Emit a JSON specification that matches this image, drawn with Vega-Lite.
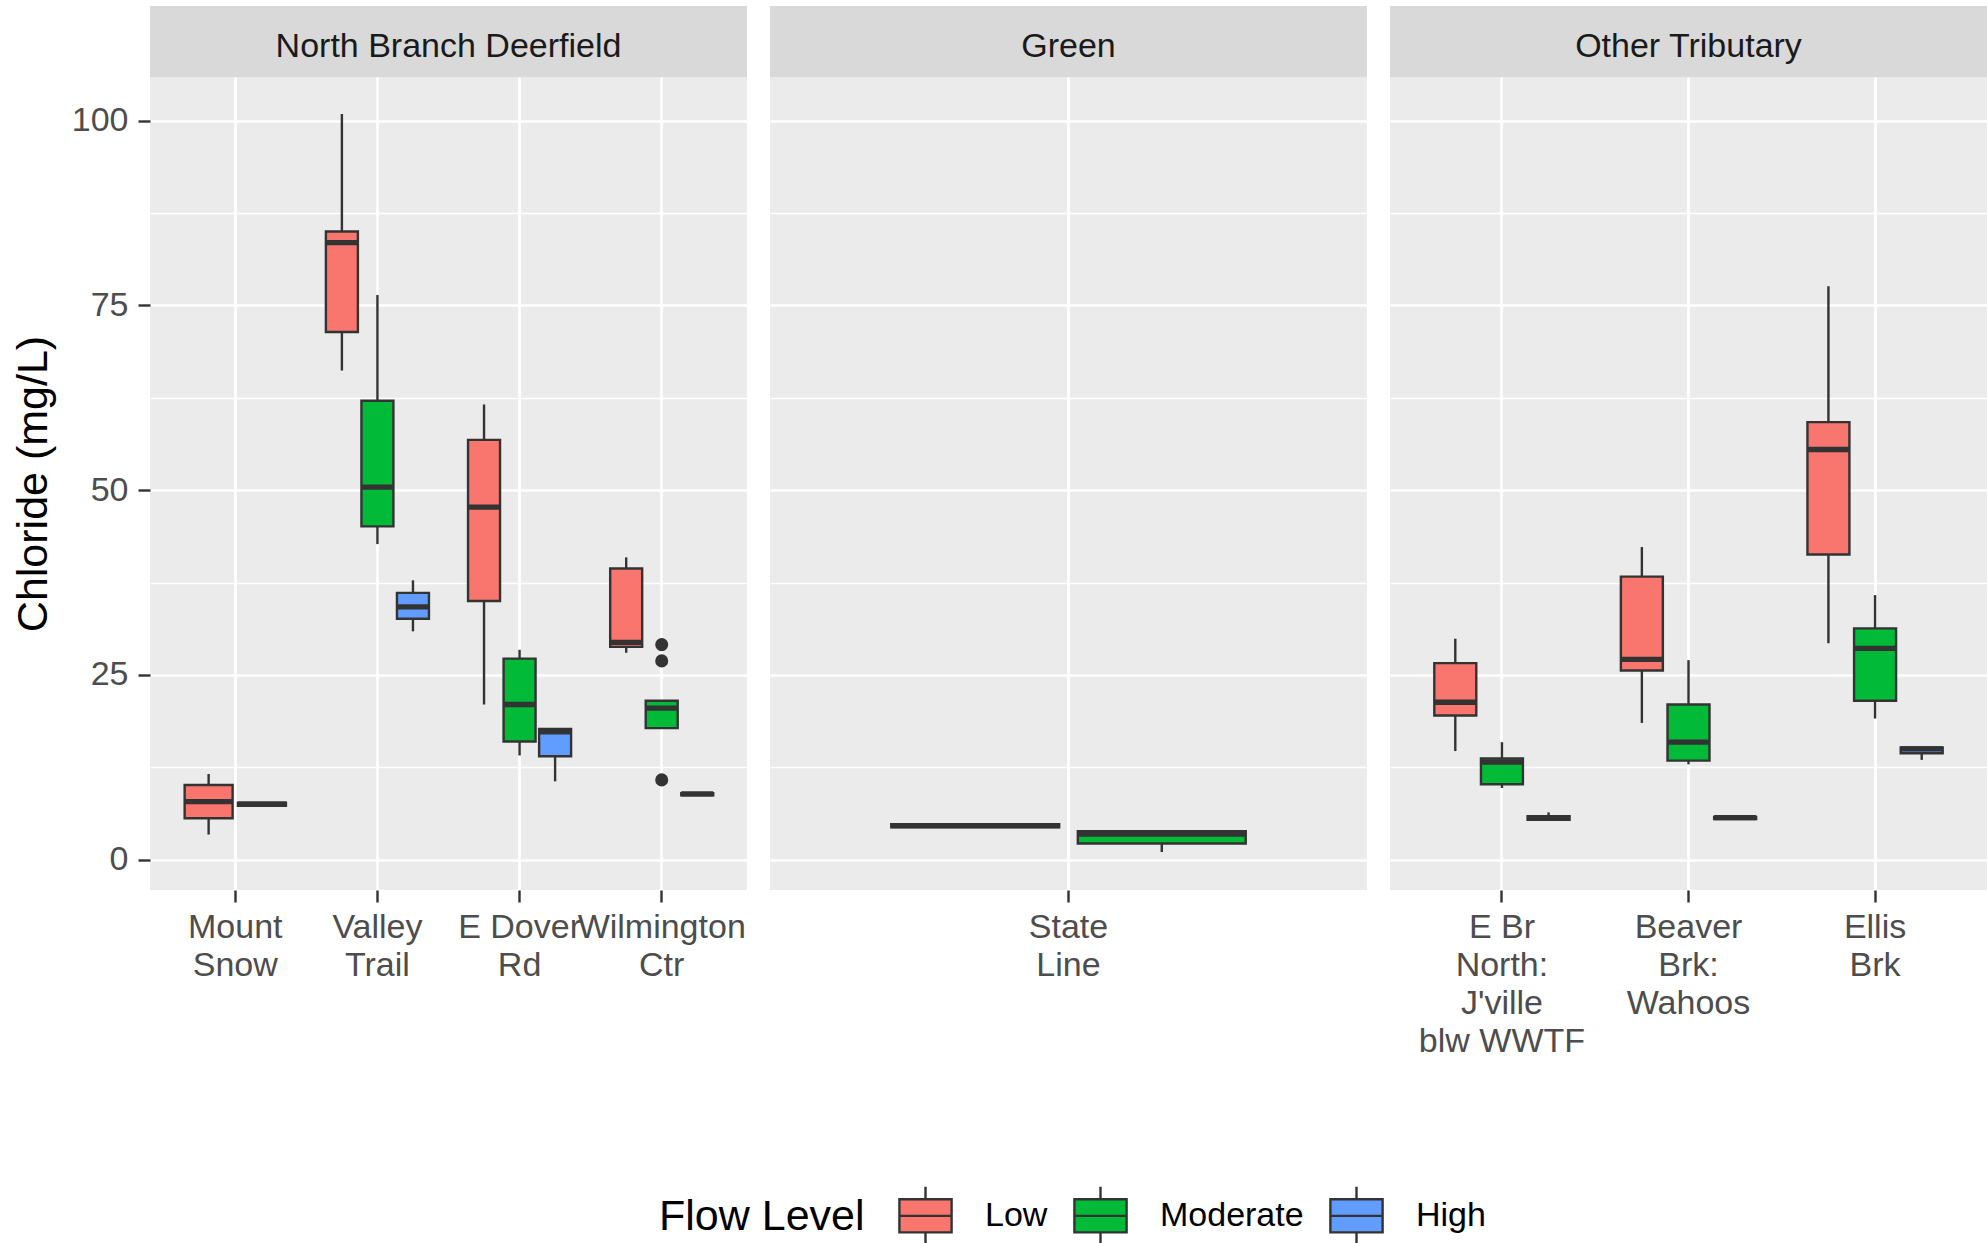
{
  "$schema": "https://vega.github.io/schema/vega-lite/v6.json",
  "background": "white",
  "padding": {"left": 12, "top": 6, "right": 0, "bottom": 0},
  "datasets": {
    "strips": [
      {"panel": "North Branch Deerfield"},
      {"panel": "Green"},
      {"panel": "Other Tributary"}
    ],
    "boxes": [
      {"panel": "North Branch Deerfield", "site": "Mount Snow", "flow": "Low", "lo": 3.4, "q1": 5.6, "med": 7.85, "q3": 10.1, "hi": 11.6},
      {"panel": "North Branch Deerfield", "site": "Mount Snow", "flow": "Moderate", "lo": 7.3, "q1": 7.3, "med": 7.5, "q3": 7.7, "hi": 7.7},
      {"panel": "North Branch Deerfield", "site": "Valley Trail", "flow": "Low", "lo": 66.2, "q1": 71.4, "med": 83.5, "q3": 85.0, "hi": 100.9},
      {"panel": "North Branch Deerfield", "site": "Valley Trail", "flow": "Moderate", "lo": 42.7, "q1": 45.1, "med": 50.4, "q3": 62.1, "hi": 76.4},
      {"panel": "North Branch Deerfield", "site": "Valley Trail", "flow": "High", "lo": 30.9, "q1": 32.6, "med": 34.2, "q3": 36.1, "hi": 37.8},
      {"panel": "North Branch Deerfield", "site": "E Dover Rd", "flow": "Low", "lo": 21.0, "q1": 35.0, "med": 47.7, "q3": 56.8, "hi": 61.6},
      {"panel": "North Branch Deerfield", "site": "E Dover Rd", "flow": "Moderate", "lo": 14.1, "q1": 16.0, "med": 21.0, "q3": 27.2, "hi": 28.4},
      {"panel": "North Branch Deerfield", "site": "E Dover Rd", "flow": "High", "lo": 10.6, "q1": 14.0, "med": 17.3, "q3": 17.7, "hi": 17.7},
      {"panel": "North Branch Deerfield", "site": "Wilmington Ctr", "flow": "Low", "lo": 28.0, "q1": 28.8, "med": 29.4, "q3": 39.4, "hi": 40.9},
      {"panel": "North Branch Deerfield", "site": "Wilmington Ctr", "flow": "Moderate", "lo": 17.8, "q1": 17.8, "med": 20.5, "q3": 21.5, "hi": 21.5},
      {"panel": "North Branch Deerfield", "site": "Wilmington Ctr", "flow": "High", "lo": 8.7, "q1": 8.7, "med": 8.9, "q3": 9.0, "hi": 9.0},
      {"panel": "Green", "site": "State Line", "flow": "Low", "lo": 4.3, "q1": 4.4, "med": 4.6, "q3": 4.8, "hi": 4.9},
      {"panel": "Green", "site": "State Line", "flow": "Moderate", "lo": 1.04, "q1": 2.2, "med": 3.45, "q3": 3.85, "hi": 3.85},
      {"panel": "Other Tributary", "site": "E Br North: J'ville blw WWTF", "flow": "Low", "lo": 14.7, "q1": 19.5, "med": 21.3, "q3": 26.6, "hi": 29.9},
      {"panel": "Other Tributary", "site": "E Br North: J'ville blw WWTF", "flow": "Moderate", "lo": 9.7, "q1": 10.2, "med": 13.2, "q3": 13.7, "hi": 15.9},
      {"panel": "Other Tributary", "site": "E Br North: J'ville blw WWTF", "flow": "High", "lo": 5.4, "q1": 5.4, "med": 5.6, "q3": 5.9, "hi": 6.4},
      {"panel": "Other Tributary", "site": "Beaver Brk: Wahoos", "flow": "Low", "lo": 18.5, "q1": 25.6, "med": 27.1, "q3": 38.3, "hi": 42.3},
      {"panel": "Other Tributary", "site": "Beaver Brk: Wahoos", "flow": "Moderate", "lo": 12.9, "q1": 13.4, "med": 15.9, "q3": 21.0, "hi": 27.0},
      {"panel": "Other Tributary", "site": "Beaver Brk: Wahoos", "flow": "High", "lo": 5.5, "q1": 5.5, "med": 5.7, "q3": 5.8, "hi": 5.8},
      {"panel": "Other Tributary", "site": "Ellis Brk", "flow": "Low", "lo": 29.3, "q1": 41.3, "med": 55.5, "q3": 59.2, "hi": 77.6},
      {"panel": "Other Tributary", "site": "Ellis Brk", "flow": "Moderate", "lo": 19.1, "q1": 21.5, "med": 28.6, "q3": 31.3, "hi": 35.8},
      {"panel": "Other Tributary", "site": "Ellis Brk", "flow": "High", "lo": 13.5, "q1": 14.4, "med": 15.0, "q3": 15.2, "hi": 15.2}
    ],
    "outliers": [
      {"panel": "North Branch Deerfield", "site": "Wilmington Ctr", "flow": "Moderate", "value": 29.1},
      {"panel": "North Branch Deerfield", "site": "Wilmington Ctr", "flow": "Moderate", "value": 26.9},
      {"panel": "North Branch Deerfield", "site": "Wilmington Ctr", "flow": "Moderate", "value": 10.8}
    ]
  },
  "spacing": 23,
  "resolve": {"scale": {"xOffset": "independent", "color": "shared"}},
  "hconcat": [
    {
      "spacing": 0,
      "vconcat": [
        {
          "width": 597, "height": 71,
          "view": {"fill": "#D9D9D9", "stroke": null},
          "data": {"name": "strips"},
          "transform": [{"filter": "datum.panel === 'North Branch Deerfield'"}],
          "mark": {"type": "text", "fontSize": 34, "color": "#1A1A1A", "font": "Liberation Sans", "baseline": "middle", "dy": 5},
          "encoding": {"text": {"field": "panel"}}
        },
        {
          "width": 597, "height": 813,
          "view": {"fill": "#EBEBEB", "stroke": null},
          "data": {"name": "boxes"},
          "transform": [{"filter": "datum.panel === 'North Branch Deerfield'"}],
          "encoding": {
            "x": {"field": "site", "type": "nominal", "title": null,
                  "scale": {"domain": ["Mount Snow", "Valley Trail", "E Dover Rd", "Wilmington Ctr"], "paddingInner": 0, "paddingOuter": 0.1}}
          },
          "layer": [
            {
              "transform": [{"filter": "datum.site === 'Mount Snow'"}],
              "encoding": {"xOffset": {"field": "flow", "type": "nominal", "sort": ["Low", "Moderate", "High"], "scale": {"paddingInner": 0.1, "paddingOuter": 0.3833}}},
              "layer": [
                {"mark": {"type": "rule", "color": "#333333", "strokeWidth": 2.4},
                 "encoding": {"y": {"field": "lo", "type": "quantitative", "title": "Chloride (mg/L)", "scale": {"domain": [-4.1, 105.9], "nice": false, "zero": false},
                                    "axis": {"values": [0, 12.5, 25, 37.5, 50, 62.5, 75, 87.5, 100], "labelExpr": "datum.value % 25 === 0 ? datum.label : ''", "tickOpacity": {"condition": {"test": "datum.value % 25 !== 0", "value": 0}, "value": 1}, "gridWidth": {"condition": {"test": "datum.value % 25 !== 0", "value": 1.3}, "value": 2.7}}},
                              "y2": {"field": "hi"}}},
                {"mark": {"type": "bar", "stroke": "#333333", "strokeWidth": 2.4},
                 "encoding": {"y": {"field": "q1", "type": "quantitative", "title": "Chloride (mg/L)"},
                              "y2": {"field": "q3"},
                              "color": {"field": "flow", "type": "nominal", "scale": {"domain": ["Low", "Moderate", "High"], "range": ["#F8766D", "#00BA38", "#619CFF"]},
                                        "legend": {"title": "Flow Level", "orient": "none", "legendX": 509, "legendY": 1179, "direction": "horizontal", "titleOrient": "left", "titleAnchor": "middle", "titleBaseline": "middle", "titleFontSize": 43, "titleFontWeight": "normal", "titleColor": "#000000", "titlePadding": 30, "titleLimit": 600, "labelFontSize": 34, "labelColor": "#000000", "labelOffset": 29, "labelLimit": 400, "symbolType": "M-0.9,-0.57H0.9V0.57H-0.9Z M-0.9,0H0.9 M0,-0.57V-1 M0,0.57V1", "symbolSize": 3364, "symbolStrokeColor": "#333333", "symbolStrokeWidth": 2.4, "symbolOpacity": 1, "columnPadding": 21}}}},
                {"mark": {"type": "bar", "fill": "transparent", "stroke": "#333333", "strokeWidth": 5.3},
                 "encoding": {"y": {"field": "med", "type": "quantitative", "title": "Chloride (mg/L)"}, "y2": {"field": "med"}}}
              ]
            },
            {
              "transform": [{"filter": "datum.site !== 'Mount Snow'"}],
              "encoding": {"xOffset": {"field": "flow", "type": "nominal", "sort": ["Low", "Moderate", "High"], "scale": {"paddingInner": 0.1, "paddingOuter": 0.55}}},
              "layer": [
                {"mark": {"type": "rule", "color": "#333333", "strokeWidth": 2.4},
                 "encoding": {"y": {"field": "lo", "type": "quantitative", "title": "Chloride (mg/L)"}, "y2": {"field": "hi"}}},
                {"mark": {"type": "bar", "stroke": "#333333", "strokeWidth": 2.4},
                 "encoding": {"y": {"field": "q1", "type": "quantitative", "title": "Chloride (mg/L)"},
                              "y2": {"field": "q3"},
                              "color": {"field": "flow", "type": "nominal"}}},
                {"mark": {"type": "bar", "fill": "transparent", "stroke": "#333333", "strokeWidth": 5.3},
                 "encoding": {"y": {"field": "med", "type": "quantitative", "title": "Chloride (mg/L)"}, "y2": {"field": "med"}}},
                {"data": {"name": "outliers"},
                 "transform": [{"filter": "datum.panel === 'North Branch Deerfield'"}],
                 "mark": {"type": "circle", "color": "#333333", "size": 170, "opacity": 1},
                 "encoding": {"y": {"field": "value", "type": "quantitative", "title": "Chloride (mg/L)"}}}
              ]
            }
          ],
          "resolve": {"scale": {"xOffset": "independent"}}
        }
      ]
    },
    {
      "spacing": 0,
      "vconcat": [
        {
          "width": 597, "height": 71,
          "view": {"fill": "#D9D9D9", "stroke": null},
          "data": {"name": "strips"},
          "transform": [{"filter": "datum.panel === 'Green'"}],
          "mark": {"type": "text", "fontSize": 34, "color": "#1A1A1A", "font": "Liberation Sans", "baseline": "middle", "dy": 5},
          "encoding": {"text": {"field": "panel"}}
        },
        {
          "width": 597, "height": 813,
          "view": {"fill": "#EBEBEB", "stroke": null},
          "data": {"name": "boxes"},
          "transform": [{"filter": "datum.panel === 'Green'"}],
          "encoding": {
            "x": {"field": "site", "type": "nominal", "title": null,
                  "scale": {"domain": ["State Line"], "paddingInner": 0, "paddingOuter": 0.1}},
            "xOffset": {"field": "flow", "type": "nominal", "sort": ["Low", "Moderate"], "scale": {"domain": ["Low", "Moderate"], "paddingInner": 0.1, "paddingOuter": 0.3833}}
          },
          "layer": [
            {"mark": {"type": "rule", "color": "#333333", "strokeWidth": 2.4},
             "encoding": {"y": {"field": "lo", "type": "quantitative", "title": null, "scale": {"domain": [-4.1, 105.9], "nice": false, "zero": false},
                                "axis": {"values": [0, 12.5, 25, 37.5, 50, 62.5, 75, 87.5, 100], "labels": false, "ticks": false, "gridWidth": {"condition": {"test": "datum.value % 25 !== 0", "value": 1.3}, "value": 2.7}}},
                          "y2": {"field": "hi"}}},
            {"mark": {"type": "bar", "stroke": "#333333", "strokeWidth": 2.4},
             "encoding": {"y": {"field": "q1", "type": "quantitative", "title": null},
                          "y2": {"field": "q3"},
                          "color": {"field": "flow", "type": "nominal"}}},
            {"mark": {"type": "bar", "fill": "transparent", "stroke": "#333333", "strokeWidth": 5.3},
             "encoding": {"y": {"field": "med", "type": "quantitative", "title": null}, "y2": {"field": "med"}}}
          ]
        }
      ]
    },
    {
      "spacing": 0,
      "vconcat": [
        {
          "width": 597, "height": 71,
          "view": {"fill": "#D9D9D9", "stroke": null},
          "data": {"name": "strips"},
          "transform": [{"filter": "datum.panel === 'Other Tributary'"}],
          "mark": {"type": "text", "fontSize": 34, "color": "#1A1A1A", "font": "Liberation Sans", "baseline": "middle", "dy": 5},
          "encoding": {"text": {"field": "panel"}}
        },
        {
          "width": 597, "height": 813,
          "view": {"fill": "#EBEBEB", "stroke": null},
          "data": {"name": "boxes"},
          "transform": [{"filter": "datum.panel === 'Other Tributary'"}],
          "encoding": {
            "x": {"field": "site", "type": "nominal", "title": null,
                  "scale": {"domain": ["E Br North: J'ville blw WWTF", "Beaver Brk: Wahoos", "Ellis Brk"], "paddingInner": 0, "paddingOuter": 0.1}},
            "xOffset": {"field": "flow", "type": "nominal", "sort": ["Low", "Moderate", "High"], "scale": {"paddingInner": 0.1, "paddingOuter": 0.55}}
          },
          "layer": [
            {"mark": {"type": "rule", "color": "#333333", "strokeWidth": 2.4},
             "encoding": {"y": {"field": "lo", "type": "quantitative", "title": null, "scale": {"domain": [-4.1, 105.9], "nice": false, "zero": false},
                                "axis": {"values": [0, 12.5, 25, 37.5, 50, 62.5, 75, 87.5, 100], "labels": false, "ticks": false, "gridWidth": {"condition": {"test": "datum.value % 25 !== 0", "value": 1.3}, "value": 2.7}}},
                          "y2": {"field": "hi"}}},
            {"mark": {"type": "bar", "stroke": "#333333", "strokeWidth": 2.4},
             "encoding": {"y": {"field": "q1", "type": "quantitative", "title": null},
                          "y2": {"field": "q3"},
                          "color": {"field": "flow", "type": "nominal"}}},
            {"mark": {"type": "bar", "fill": "transparent", "stroke": "#333333", "strokeWidth": 5.3},
             "encoding": {"y": {"field": "med", "type": "quantitative", "title": null}, "y2": {"field": "med"}}}
          ]
        }
      ]
    }
  ],
  "config": {
    "font": "Liberation Sans",
    "view": {"stroke": null},
    "axis": {
      "domain": false, "grid": true, "gridColor": "#FFFFFF", "gridWidth": 2.7, "gridOpacity": 1,
      "tickColor": "#333333", "tickWidth": 2.4, "tickSize": 12,
      "labelColor": "#4D4D4D", "labelFontSize": 34, "labelFont": "Liberation Sans",
      "titleFont": "Liberation Sans", "titleFontSize": 43, "titleFontWeight": "normal", "titleColor": "#000000",
      "labelOverlap": false, "labelBound": false, "labelFlush": false, "labelLimit": 400
    },
    "axisX": {
      "labelAngle": 0, "labelPadding": 8, "labelLineHeight": 38, "labelBaseline": "top", "labelAlign": "center",
      "labelExpr": "datum.label === 'E Dover Rd' ? ['E Dover', 'Rd'] : datum.label === 'Beaver Brk: Wahoos' ? ['Beaver', 'Brk:', 'Wahoos'] : indexof(datum.label, 'E Br') === 0 ? ['E Br', 'North:', \"J'ville\", 'blw WWTF'] : split(datum.label, ' ')"
    },
    "axisY": {"labelPadding": 10, "titlePadding": 16},
    "legend": {"labelFont": "Liberation Sans", "titleFont": "Liberation Sans"}
  }
}
